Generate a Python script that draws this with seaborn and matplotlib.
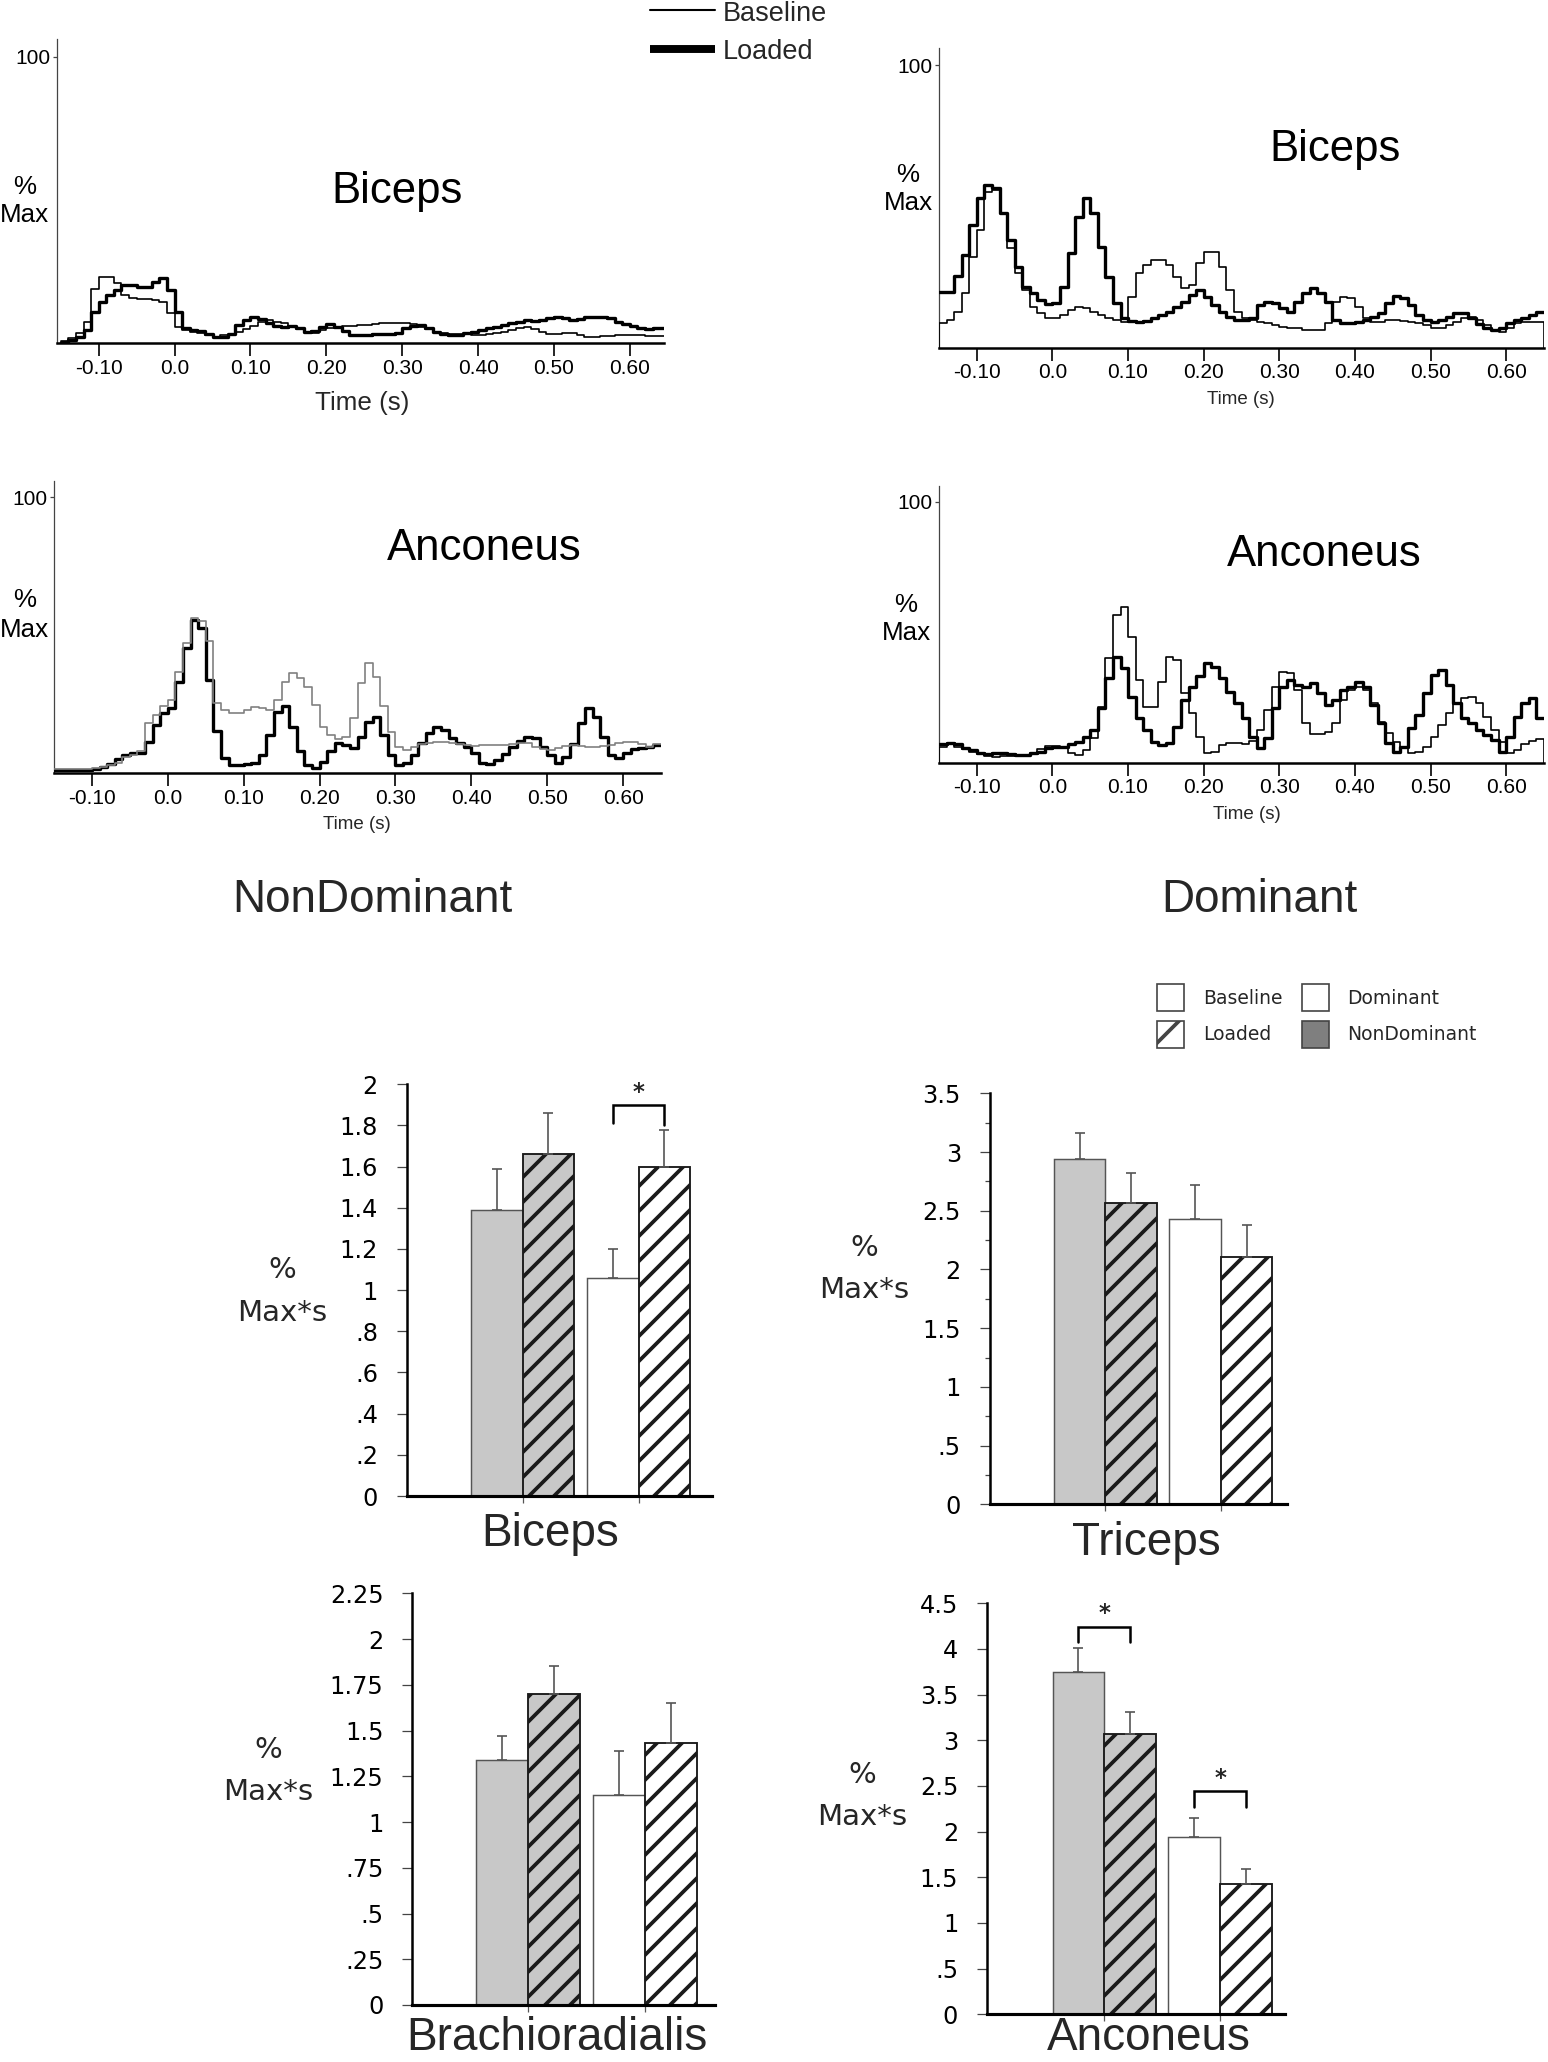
import numpy as np
import pandas as pd
import matplotlib
matplotlib.use("Agg")
import matplotlib.pyplot as plt
from matplotlib.lines import Line2D
from matplotlib.patches import Rectangle
import seaborn as sns

sns.set_theme(style="ticks")
plt.rcParams["font.family"] = ["Liberation Sans", "DejaVu Sans"]
plt.rcParams["hatch.linewidth"] = 1.8
plt.rcParams["hatch.color"] = "black"

# ------------------------------------------------------------------ data
BIN_WIDTH = 0.01
time_bins = np.round(np.arange(-0.15, 0.645, BIN_WIDTH), 2)   # 80 bins of 10 ms
time_ticks = [-0.10, 0.0, 0.10, 0.20, 0.30, 0.40, 0.50, 0.60]
time_tick_labels = ["-0.10", "0.0", "0.10", "0.20", "0.30", "0.40", "0.50", "0.60"]

# NonDominant Biceps (% Max)
biceps_nd_baseline = [0.8, 1.7, 3.5, 7.6, 19.0, 23.0, 23.0, 21.0, 17.0, 15.7,
                      15.3, 15.3, 15.0, 14.5, 10.5, 5.8, 4.6, 4.0, 3.5, 2.9,
                      2.3, 2.9, 2.9, 3.8, 5.0, 6.2, 7.6, 8.1, 7.6, 7.0,
                      6.2, 5.0, 3.8, 3.5, 4.6, 5.2, 5.8, 6.0, 6.2, 6.4,
                      6.4, 6.6, 7.0, 7.0, 7.0, 7.0, 6.7, 5.8, 5.0, 4.0,
                      3.5, 3.1, 3.1, 3.1, 2.9, 2.9, 3.1, 3.5, 4.0, 4.6,
                      5.2, 5.8, 5.0, 3.8, 3.1, 3.1, 3.7, 3.5, 2.9, 2.3,
                      2.3, 2.4, 2.7, 2.9, 2.9, 2.9, 2.8, 2.7, 2.6, 2.6]
biceps_nd_loaded = [0.3, 1.2, 2.3, 4.6, 11.0, 14.5, 17.0, 18.6, 20.3, 20.3,
                    19.8, 19.5, 21.5, 22.7, 18.6, 11.0, 5.5, 4.6, 4.3, 3.1,
                    2.3, 2.3, 3.1, 6.4, 8.1, 9.0, 8.5, 7.0, 6.2, 5.8,
                    6.0, 5.2, 3.8, 4.3, 5.8, 6.6, 5.8, 4.3, 2.9, 2.9,
                    2.9, 3.1, 3.1, 3.4, 3.5, 5.2, 6.2, 6.4, 5.2, 3.8,
                    3.4, 2.9, 2.9, 3.5, 4.0, 4.6, 5.2, 5.8, 6.4, 7.0,
                    7.6, 8.1, 7.8, 8.1, 8.7, 9.0, 8.7, 8.1, 8.5, 9.0,
                    9.3, 9.3, 8.7, 7.6, 6.6, 6.2, 5.5, 5.0, 5.2, 5.2]

# Dominant Biceps (% Max)
biceps_d_baseline = [8.6, 9.8, 12.8, 19.2, 32.2, 41.7, 55.3, 55.8, 47.6, 35.2,
                     26.3, 20.4, 14.5, 12.2, 10.4, 10.4, 11.6, 13.3, 14.5, 13.9,
                     12.8, 11.6, 10.4, 9.8, 9.2, 18.1, 26.3, 29.3, 31.1, 31.1,
                     29.3, 25.1, 21.0, 22.3, 29.9, 34.0, 34.0, 28.7, 20.4, 12.8,
                     10.4, 9.8, 9.2, 8.6, 8.0, 7.4, 6.8, 6.8, 6.3, 6.3,
                     6.3, 8.6, 16.3, 18.1, 17.5, 14.5, 10.4, 9.2, 9.2, 9.8,
                     9.8, 9.6, 9.2, 8.6, 8.0, 6.8, 6.8, 8.0, 9.2, 10.4,
                     11.0, 9.8, 8.0, 6.3, 5.7, 6.8, 8.6, 9.2, 9.2, 9.2]
biceps_d_loaded = [19.8, 19.8, 25.4, 32.8, 43.4, 52.9, 57.6, 56.4, 47.6, 38.1,
                   28.7, 21.6, 19.2, 16.9, 15.5, 15.7, 21.6, 33.4, 46.4, 52.9,
                   47.6, 35.8, 25.1, 15.7, 10.4, 9.6, 9.2, 9.6, 10.4, 11.6,
                   12.8, 14.5, 16.3, 18.7, 20.4, 18.1, 15.1, 12.8, 11.0, 9.8,
                   9.8, 10.4, 15.1, 16.3, 15.7, 13.9, 12.8, 16.3, 19.2, 21.0,
                   19.2, 16.3, 9.8, 8.6, 8.6, 9.2, 9.8, 11.0, 12.2, 15.7,
                   18.3, 17.5, 15.1, 11.6, 9.8, 9.2, 9.8, 11.0, 12.2, 12.2,
                   10.4, 8.4, 6.8, 6.3, 6.8, 8.6, 9.8, 10.4, 11.6, 12.8]

# NonDominant Anconeus (% Max)
anconeus_nd_baseline = [1.6, 1.6, 1.6, 1.6, 1.6, 1.8, 2.4, 3.0, 3.9, 6.0,
                        6.6, 7.9, 18.1, 21.1, 24.2, 26.6, 36.8, 47.1, 56.2, 55.0,
                        48.0, 25.4, 22.9, 21.7, 21.7, 22.9, 23.9, 23.6, 22.9, 26.6,
                        33.2, 36.5, 34.4, 31.4, 24.8, 16.9, 13.9, 12.3, 13.3, 19.9,
                        32.6, 40.1, 35.0, 24.2, 15.1, 9.7, 8.5, 9.7, 10.6, 11.1,
                        11.5, 11.5, 11.1, 10.6, 10.1, 9.9, 10.1, 10.3, 10.3, 10.3,
                        10.6, 11.1, 10.9, 9.7, 8.7, 8.5, 9.1, 9.9, 10.3, 9.9,
                        9.7, 9.7, 10.0, 10.3, 10.9, 11.5, 11.5, 10.6, 9.7, 10.6]
anconeus_nd_loaded = [1.2, 1.2, 1.2, 1.2, 1.2, 1.4, 2.4, 3.3, 5.1, 6.6,
                      7.2, 7.5, 11.5, 17.5, 21.7, 23.6, 33.2, 45.3, 55.6, 52.5,
                      33.8, 15.5, 5.4, 3.0, 3.0, 3.4, 3.9, 6.6, 13.9, 22.3,
                      24.4, 16.9, 7.9, 3.0, 1.8, 4.2, 7.9, 11.1, 10.3, 9.1,
                      13.3, 18.7, 20.5, 13.9, 6.6, 3.0, 3.6, 6.6, 10.9, 14.5,
                      16.9, 15.7, 12.7, 10.9, 9.7, 7.2, 3.6, 3.4, 4.8, 7.0,
                      9.7, 11.8, 13.0, 12.7, 9.7, 6.6, 3.9, 6.0, 10.6, 18.1,
                      23.6, 20.5, 13.3, 6.6, 5.4, 7.2, 8.7, 9.1, 9.7, 10.3]

# Dominant Anconeus (% Max)
anconeus_d_baseline = [6.1, 7.2, 6.1, 5.1, 4.2, 3.3, 2.6, 2.3, 2.6, 2.7,
                       2.7, 2.9, 3.6, 5.1, 6.4, 6.4, 6.1, 3.6, 2.9, 4.9,
                       9.3, 21.5, 40.0, 56.6, 59.8, 48.3, 31.7, 21.5, 21.5, 31.0,
                       40.6, 39.3, 26.6, 18.9, 10.0, 3.6, 4.2, 6.8, 7.4, 7.4,
                       7.2, 8.2, 12.5, 20.2, 29.1, 34.9, 34.2, 27.8, 15.1, 11.0,
                       11.0, 11.9, 15.1, 24.0, 27.8, 29.1, 27.8, 22.7, 15.7, 11.2,
                       8.0, 6.1, 3.8, 4.2, 6.1, 10.0, 14.4, 18.9, 22.7, 24.7,
                       25.3, 22.7, 17.6, 12.5, 8.0, 3.8, 4.9, 7.2, 8.4, 8.9]
anconeus_d_loaded = [7.2, 7.7, 7.2, 5.5, 4.9, 3.8, 3.3, 3.6, 3.8, 3.3,
                     2.9, 2.9, 3.6, 4.2, 5.5, 6.1, 6.1, 7.2, 8.0, 10.0,
                     12.5, 20.8, 32.3, 40.6, 36.1, 25.3, 17.0, 12.5, 8.0, 6.8,
                     7.4, 13.8, 24.0, 29.1, 33.2, 38.3, 36.8, 32.3, 27.2, 22.7,
                     17.0, 10.0, 5.5, 9.3, 20.8, 29.1, 31.7, 29.8, 29.1, 30.4,
                     26.6, 22.1, 24.0, 27.8, 29.1, 31.0, 29.1, 22.1, 15.1, 7.4,
                     4.2, 6.1, 13.2, 18.3, 26.6, 33.6, 35.5, 29.8, 22.7, 17.0,
                     15.1, 12.5, 10.6, 8.7, 4.2, 10.0, 17.6, 22.7, 24.7, 17.0]

# Integrated EMG bars (% Max*s), order: NonDom-Baseline, NonDom-Loaded, Dom-Baseline, Dom-Loaded
groups = ["NonDominant", "Dominant"]
conditions = ["Baseline", "Loaded"]
biceps_means = [1.39, 1.66, 1.06, 1.60]
biceps_sem = [0.20, 0.20, 0.14, 0.18]
triceps_means = [2.94, 2.57, 2.43, 2.11]
triceps_sem = [0.22, 0.25, 0.29, 0.27]
brachio_means = [1.34, 1.70, 1.15, 1.43]
brachio_sem = [0.13, 0.15, 0.24, 0.22]
anconeus_means = [3.75, 3.07, 1.94, 1.43]
anconeus_sem = [0.26, 0.24, 0.21, 0.16]

# significance brackets: (bar i, bar j, left leg end, right leg end, bracket top, star)
biceps_sig = [(2, 3, 1.81, 1.80, 1.90, 1.96)]
anconeus_sig = [(0, 1, 4.08, 4.08, 4.24, 4.39), (2, 3, 2.27, 2.27, 2.44, 2.58)]

biceps_ticks = [0, 0.2, 0.4, 0.6, 0.8, 1.0, 1.2, 1.4, 1.6, 1.8, 2.0]
biceps_ticklabels = ["0", ".2", ".4", ".6", ".8", "1", "1.2", "1.4", "1.6", "1.8", "2"]
triceps_ticks = [0, 0.5, 1.0, 1.5, 2.0, 2.5, 3.0, 3.5]
triceps_ticklabels = ["0", ".5", "1", "1.5", "2", "2.5", "3", "3.5"]
triceps_minor = [0.25, 0.75, 1.25, 1.75, 2.25, 2.75, 3.25]
brachio_ticks = [0, 0.25, 0.5, 0.75, 1.0, 1.25, 1.5, 1.75, 2.0, 2.25]
brachio_ticklabels = ["0", ".25", ".5", ".75", "1", "1.25", "1.5", "1.75", "2", "2.25"]
anconeus_ticks = [0, 0.5, 1.0, 1.5, 2.0, 2.5, 3.0, 3.5, 4.0, 4.5]
anconeus_ticklabels = ["0", ".5", "1", "1.5", "2", "2.5", "3", "3.5", "4", "4.5"]

# ------------------------------------------------------------------ figure
W, H, DPI = 1548, 2062, 150
fig = plt.figure(figsize=(W / DPI, H / DPI), dpi=DPI)
fig.patch.set_facecolor("white")


def px_axes(l, r, t, b):
    return fig.add_axes([l / W, 1 - b / H, (r - l) / W, (b - t) / H])


def ftext(x, y, s, **kw):
    fig.text(x / W, 1 - y / H, s, **kw)


def trace_panel(box, xlim, base, load, base_color, close_base):
    ax = px_axes(*box)
    edges = list(time_bins) + [round(float(time_bins[-1]) + BIN_WIDTH, 2)]
    for vals, lw, col, close, z in ((load, 1.6, "black", False, 3),
                                    (base, 0.8, base_color, close_base, 4)):
        x = list(edges)
        y = list(vals) + [vals[-1]]
        if close:
            x = [edges[0]] + x + [edges[-1]]
            y = [0.0] + y + [0.0]
        df = pd.DataFrame({"t": x, "v": y})
        sns.lineplot(data=df, x="t", y="v", estimator=None, sort=False,
                     drawstyle="steps-post", color=col, linewidth=lw, ax=ax, zorder=z)
    ax.set_xlim(*xlim)
    ax.set_ylim(0, 106)
    ax.set_xticks(time_ticks)
    ax.set_xticklabels(time_tick_labels)
    ax.set_yticks([100])
    ax.set_yticklabels(["100"])
    ax.set_xlabel("")
    ax.set_ylabel("")
    for s in ("top", "right"):
        ax.spines[s].set_visible(False)
    ax.spines["left"].set_linewidth(0.6)
    ax.spines["left"].set_color("#444444")
    ax.spines["bottom"].set_linewidth(1.2)
    ax.spines["bottom"].set_color("black")
    ax.tick_params(axis="x", direction="out", length=6, width=0.8, color="black",
                   pad=1.5, labelsize=10, labelcolor="black")
    ax.tick_params(axis="y", direction="out", length=2, width=0.6, color="#444444",
                   pad=1, labelsize=10, labelcolor="black")
    ax.patch.set_alpha(0)
    return ax


# --- trace panels
trace_panel((57, 664, 39.3, 343.3), (-0.155, 0.645), biceps_nd_baseline, biceps_nd_loaded, "black", False)
trace_panel((939, 1544, 48.3, 347.7), (-0.15, 0.65), biceps_d_baseline, biceps_d_loaded, "black", True)
trace_panel((54, 661, 480.7, 773.3), (-0.15, 0.65), anconeus_nd_baseline, anconeus_nd_loaded, "#808080", False)
trace_panel((939, 1544, 486, 762.7), (-0.15, 0.65), anconeus_d_baseline, anconeus_d_loaded, "black", True)

title_kw = dict(ha="center", va="center", fontsize=21, color="black")
ftext(397, 192, "Biceps", **title_kw)
ftext(1335, 150, "Biceps", **title_kw)
ftext(484, 548, "Anconeus", **title_kw)
ftext(1324, 555, "Anconeus", **title_kw)

pm_kw = dict(ha="center", va="center", fontsize=12.5, color="black")
for (x, y1, y2) in ((24.5, 187, 215), (908, 175, 203), (24.5, 600, 630), (906, 605, 633)):
    ftext(x, y1, "%", **pm_kw)
    ftext(x, y2, "Max", **pm_kw)

ftext(362, 403, "Time (s)", ha="center", va="center", fontsize=12.5)
ftext(1241, 400, "Time (s)", ha="center", va="center", fontsize=9)
ftext(357, 825, "Time (s)", ha="center", va="center", fontsize=9)
ftext(1247, 815, "Time (s)", ha="center", va="center", fontsize=9)

# top legend
fig.add_artist(Line2D([650 / W, 715 / W], [1 - 10 / H, 1 - 10 / H], transform=fig.transFigure,
                      color="black", linewidth=1.0))
fig.add_artist(Line2D([650 / W, 715 / W], [1 - 49 / H, 1 - 49 / H], transform=fig.transFigure,
                      color="black", linewidth=3.8, solid_capstyle="butt"))
ftext(723, 14, "Baseline", ha="left", va="center", fontsize=13)
ftext(723, 52, "Loaded", ha="left", va="center", fontsize=13)

ftext(372, 900, "NonDominant", ha="center", va="center", fontsize=22)
ftext(1259, 900, "Dominant", ha="center", va="center", fontsize=22)

# --- bar panels
bar_faces = ["#c8c8c8", "#c8c8c8", "white", "white"]
bar_hatches = [None, "//", None, "//"]
bar_edges = ["#555555", "#1a1a1a", "#555555", "#1a1a1a"]
bar_lws = [0.7, 0.9, 0.7, 0.9]
DV = "DejaVu Sans"


def bar_panel(box, xlim, means, sems, ylim, yticks, yticklabels, minor=None, sig=None):
    ax = px_axes(*box)
    df = pd.DataFrame({"group": [g for g in groups for _ in conditions],
                       "condition": conditions * len(groups),
                       "value": means})
    sns.barplot(data=df, x="group", y="value", hue="condition", order=groups,
                hue_order=conditions, palette=["white", "white"], saturation=1,
                width=0.89, errorbar=None, legend=False, ax=ax)
    bars = sorted([p for p in ax.patches if p.get_height() > 0], key=lambda p: p.get_x())
    for bar, fc, hatch, ec, lw in zip(bars, bar_faces, bar_hatches, bar_edges, bar_lws):
        bar.set_facecolor(fc)
        bar.set_edgecolor(ec)
        bar.set_linewidth(lw)
        if hatch:
            bar.set_hatch(hatch)
    centers = [b.get_x() + b.get_width() / 2 for b in bars]
    heights = [b.get_height() for b in bars]
    ax.errorbar(centers, heights, yerr=[np.zeros(len(sems)), sems], fmt="none",
                ecolor="#555555", elinewidth=0.8, capsize=2.4, capthick=0.8, zorder=1)
    if sig:
        for i, j, yl, yr, yt, ys in sig:
            ax.plot([centers[i], centers[i], centers[j], centers[j]], [yl, yt, yt, yr],
                    color="black", linewidth=1.2, solid_joinstyle="miter")
            ax.text((centers[i] + centers[j]) / 2, ys, "*", ha="center", va="center",
                    fontsize=11, fontweight="bold", family=DV)
    ax.set_xlim(*xlim)
    ax.set_ylim(*ylim)
    ax.set_xticks([0, 1])
    ax.set_xticklabels(["", ""])
    ax.set_yticks(yticks)
    ax.set_yticklabels(yticklabels, family=DV)
    if minor:
        ax.set_yticks(minor, minor=True)
        ax.tick_params(axis="y", which="minor", direction="out", length=2.5, width=0.6,
                       color="#444444")
    ax.set_xlabel("")
    ax.set_ylabel("")
    for s in ("top", "right"):
        ax.spines[s].set_visible(False)
    ax.spines["left"].set_linewidth(1.2)
    ax.spines["left"].set_color("black")
    ax.spines["bottom"].set_linewidth(1.5)
    ax.spines["bottom"].set_color("black")
    ax.tick_params(axis="y", which="major", direction="out", length=4.8, width=0.6,
                   color="#444444", pad=9, labelsize=11.5, labelcolor="black")
    ax.tick_params(axis="x", direction="out", length=3.5, width=0.6, color="#555555")
    ax.patch.set_alpha(0)
    return ax


bar_panel((406.7, 711.7, 1084.3, 1496), (-1.0, 1.63), biceps_means, biceps_sem, (0, 2),
          biceps_ticks, biceps_ticklabels, sig=biceps_sig)
bar_panel((989.7, 1286.7, 1093.3, 1504.3), (-1.0, 1.57), triceps_means, triceps_sem, (0, 3.5),
          triceps_ticks, triceps_ticklabels, minor=triceps_minor)
bar_panel((412.3, 715, 1593.3, 2005), (-0.99, 1.60), brachio_means, brachio_sem, (0, 2.25),
          brachio_ticks, brachio_ticklabels)
bar_panel((987, 1285, 1603.3, 2014.3), (-1.01, 1.56), anconeus_means, anconeus_sem, (0, 4.5),
          anconeus_ticks, anconeus_ticklabels, sig=anconeus_sig)

xl_kw = dict(ha="center", va="baseline", fontsize=22)
ftext(550, 1545.5, "Biceps", **xl_kw)
ftext(1146, 1554.7, "Triceps", **xl_kw)
ftext(557, 2050, "Brachioradialis", **xl_kw)
ftext(1149, 2050, "Anconeus", **xl_kw)

yl_kw = dict(ha="center", va="center", fontsize=14, family=DV)
for (x, y1, y2) in ((282, 1270, 1313), (864, 1248, 1290), (268, 1750, 1792), (862, 1775, 1817)):
    ftext(x, y1, "%", **yl_kw)
    ftext(x, y2, "Max*s", **yl_kw)

# bar legend
leg_boxes = [(1157, 984, "white", None, "Baseline", 1203),
             (1157, 1021, "white", "/", "Loaded", 1203),
             (1302, 984, "white", None, "Dominant", 1347),
             (1302, 1021, "#7f7f7f", None, "NonDominant", 1347)]
for x, y, fc, hatch, label, tx in leg_boxes:
    r = Rectangle((x / W, 1 - (y + 27) / H), 27 / W, 27 / H, transform=fig.transFigure,
                  facecolor=fc, edgecolor="#444444", linewidth=0.8, hatch=hatch)
    fig.add_artist(r)
    ftext(tx, y + 14, label, ha="left", va="center", fontsize=9, family=DV)

fig.savefig("out.png", dpi=DPI, facecolor="white")
